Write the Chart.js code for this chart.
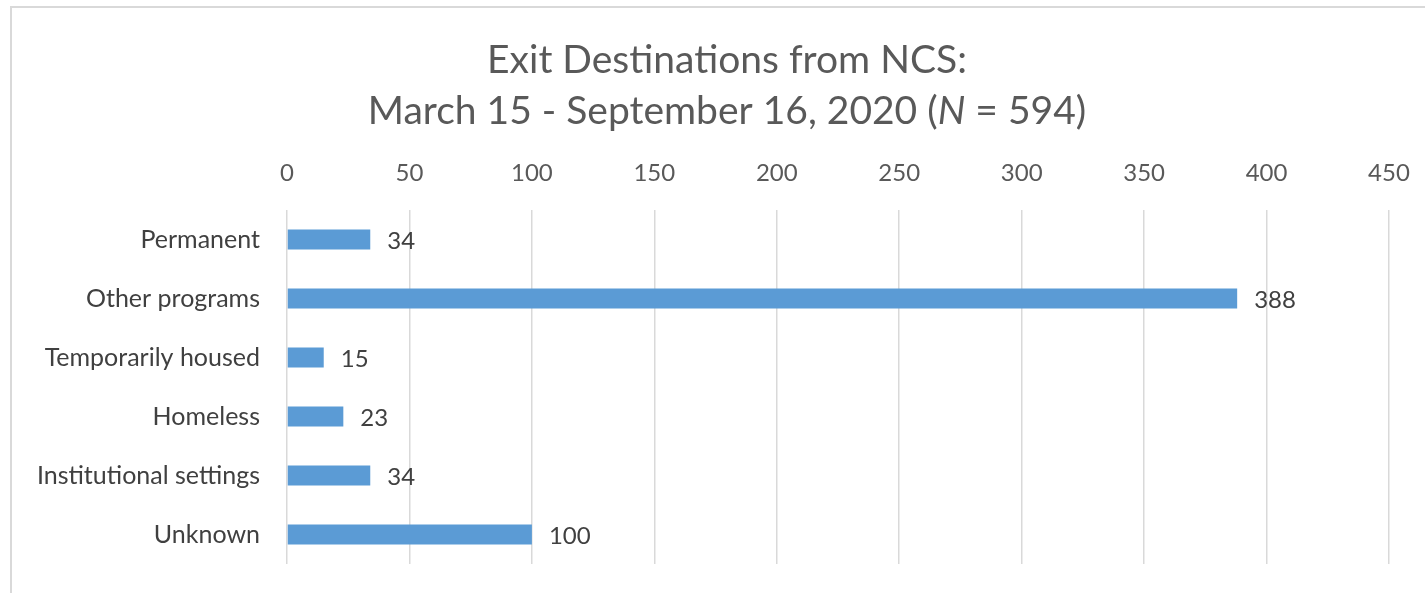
<!DOCTYPE html>
<html>
<head>
<meta charset="utf-8">
<script src="https://cdn.jsdelivr.net/npm/chart.js@4"></script>
<style>
  body { margin: 0; background: #fff; }
  #wrap { position: relative; width: 1425px; height: 593px; overflow: hidden; }
  #frame { position: absolute; left: 10px; top: 6px; width: 1430px; height: 600px; border: 2px solid #d9d9d9; pointer-events: none; }
  canvas { position: absolute; left: 0; top: 0; }
</style>
</head>
<body>
<div id="wrap">
  <canvas id="exitChart" width="1425" height="593"></canvas>
  <div id="frame"></div>
</div>
<script>
const categories = ["Permanent", "Other programs", "Temporarily housed", "Homeless", "Institutional settings", "Unknown"];
const exitCounts = [34, 388, 15, 23, 34, 100];
const titleLine1 = "Exit Destinations from NCS:";
const titleLine2 = ["March 15 - September 16, 2020 (", "N", " = 594)"];

const FONT = "Lato, 'Open Sans', sans-serif";

// title with italic N, drawn on the canvas
const titlePlugin = {
    id: "twoLineTitle",
    afterDraw(chart) {
        const ctx = chart.ctx;
        const cx = 727;
        ctx.save();
        ctx.fillStyle = "#595959";
        ctx.textBaseline = "middle";
        ctx.font = "39px " + FONT;
        ctx.textAlign = "center";
        ctx.fillText(titleLine1, cx, 60);

        ctx.textAlign = "left";
        const fonts = ["39px " + FONT, "italic 39px " + FONT, "39px " + FONT];
        let total = 0;
        const widths = titleLine2.map((t, i) => {
            ctx.font = fonts[i];
            const w = ctx.measureText(t).width;
            total += w;
            return w;
        });
        let x = cx - total / 2;
        titleLine2.forEach((t, i) => {
            ctx.font = fonts[i];
            ctx.fillText(t, x, 111);
            x += widths[i];
        });
        ctx.restore();
    },
};

// value labels at the end of each bar
const valueLabels = {
    id: "valueLabels",
    afterDatasetsDraw(chart) {
        const ctx = chart.ctx;
        ctx.save();
        ctx.font = "24px " + FONT;
        ctx.fillStyle = "#404040";
        ctx.textAlign = "left";
        ctx.textBaseline = "middle";
        chart.getDatasetMeta(0).data.forEach((bar, i) => {
            ctx.fillText(String(exitCounts[i]), bar.x + 17, bar.y + 2);
        });
        ctx.restore();
    },
};

new Chart(document.getElementById("exitChart").getContext("2d"), {
    type: "bar",
    plugins: [titlePlugin, valueLabels],
    data: {
        labels: categories,
        datasets: [{
            data: exitCounts,
            backgroundColor: "#5b9bd5",
            categoryPercentage: 1,
            barPercentage: 0.34,
        }],
    },
    options: {
        indexAxis: "y",
        responsive: false,
        animation: false,
        layout: { padding: { top: 140, left: 0, right: 36, bottom: 29 } },
        plugins: {
            legend: { display: false },
            title: { display: false },
            tooltip: { enabled: false },
        },
        scales: {
            x: {
                position: "top",
                min: 0,
                max: 450,
                ticks: {
                    stepSize: 50,
                    padding: 22,
                    color: "#595959",
                    font: { family: FONT, size: 24 },
                },
                grid: { color: "#d9d9d9", lineWidth: 1.5, drawTicks: false },
                border: { display: false },
                afterFit: (scale) => {
                    scale.height = 70;
                    scale.paddingLeft = 0;
                    scale.paddingRight = 0;
                },
            },
            y: {
                ticks: {
                    padding: 27,
                    color: "#404040",
                    font: { family: FONT, size: 25 },
                },
                grid: { display: false, drawTicks: false },
                border: { display: false },
                afterFit: (scale) => {
                    scale.width = 287;
                    scale.paddingTop = 0;
                    scale.paddingBottom = 0;
                },
            },
        },
    },
});
</script>
</body>
</html>
